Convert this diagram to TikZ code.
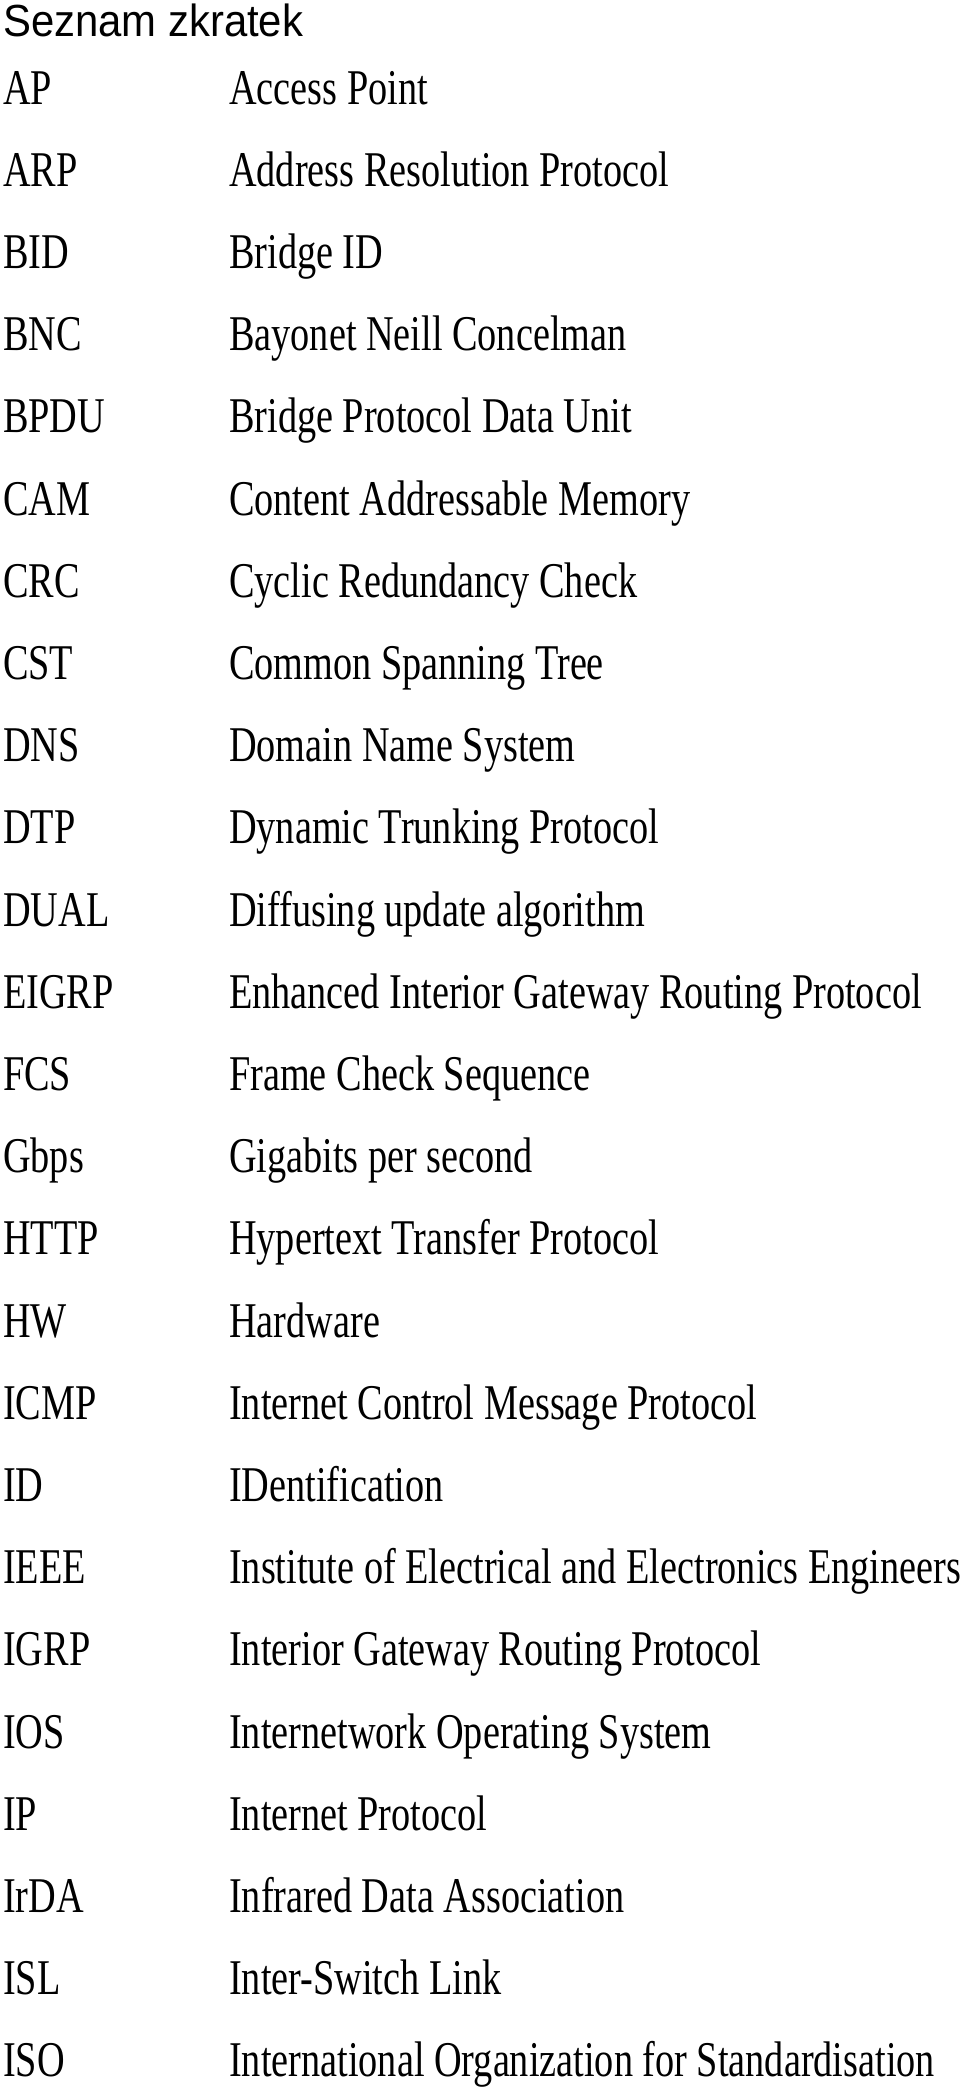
\documentclass[tikz,border=0pt]{standalone}
\usepackage{fontspec}
\setmainfont{Liberation Serif}[FakeStretch=0.765]
\newfontfamily\titlefont{Liberation Sans}[FakeStretch=0.93]
\usetikzlibrary{positioning}

\begin{document}
\begin{tikzpicture}[x=1pt,y=-1pt]
\tikzset{every node/.style={inner sep=0pt,anchor=base west,font=\fontsize{50}{50}\selectfont},
  abbr/.style={}, desc/.style={}}
\useasboundingbox (0,0) rectangle (960,2091);
\node[font=\titlefont\fontsize{45}{45}\selectfont] (title) at (3,36) {Seznam zkratek};
\foreach \ab/\txt [count=\i from 0] in {AP/Access Point,ARP/Address Resolution Protocol,BID/Bridge ID,
  BNC/Bayonet Neill Concelman,BPDU/Bridge Protocol Data Unit,CAM/Content Addressable Memory,
  CRC/Cyclic Redundancy Check,CST/Common Spanning Tree,DNS/Domain Name System,
  DTP/Dynamic Trunking Protocol,DUAL/Diffusing update algorithm,
  EIGRP/Enhanced Interior Gateway Routing Protocol,FCS/Frame Check Sequence,
  Gbps/Gigabits per second,HTTP/Hypertext Transfer Protocol,HW/Hardware,
  ICMP/Internet Control Message Protocol,ID/IDentification,
  IEEE/Institute of Electrical and Electronics Engineers,IGRP/Interior Gateway Routing Protocol,
  IOS/Internetwork Operating System,IP/Internet Protocol,IrDA/Infrared Data Association,
  ISL/Inter-Switch Link,ISO/International Organization for Standardisation}
{
  \node[abbr] (ab\i) at (3,104+82.2*\i) {\ab};
  \node[desc] (de\i) at (229,104+82.2*\i) {\txt};
}
\end{tikzpicture}
\end{document}
